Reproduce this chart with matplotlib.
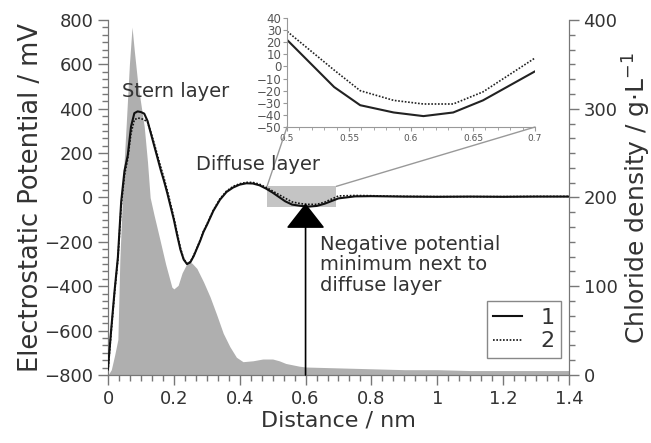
import matplotlib
matplotlib.use("Agg")
import matplotlib.pyplot as plt
from matplotlib.ticker import MultipleLocator, AutoMinorLocator
from matplotlib.patches import Rectangle, ConnectionPatch

# potential profiles (mV) vs distance (nm)
dist = [0.00, 0.01, 0.02, 0.03, 0.04, 0.05, 0.06, 0.07, 0.08, 0.09,
        0.10, 0.11, 0.12, 0.13, 0.14, 0.15, 0.16, 0.17, 0.18, 0.19,
        0.20, 0.21, 0.22, 0.23, 0.24, 0.25, 0.26, 0.27, 0.28, 0.29,
        0.30, 0.32, 0.34, 0.36, 0.38, 0.40, 0.42, 0.44, 0.46, 0.48,
        0.50, 0.538, 0.559, 0.586, 0.61, 0.634, 0.658, 0.70, 0.75, 0.80,
        0.85, 0.90, 1.0, 1.1, 1.2, 1.3, 1.4]
pot_1 = [-770, -590, -420, -270, -20, 120, 190, 320, 380, 388,
         385, 378, 345, 290, 235, 180, 125, 75, 20, -40,
         -100, -170, -235, -280, -300, -292, -265, -230, -195, -155,
         -125, -60, -10, 25, 45, 58, 64, 63, 55, 40,
         22, -17, -32, -38, -41, -38, -28, -4, 5, 6,
         5, 4, 3, 4, 3, 4, 4]
pot_2 = [-780, -600, -430, -280, -40, 100, 175, 290, 350, 358,
         356, 350, 340, 295, 245, 192, 138, 88, 32, -28,
         -90, -160, -228, -278, -298, -290, -262, -228, -192, -152,
         -122, -57, -6, 29, 50, 62, 68, 68, 60, 46,
         29, -3, -20, -28, -31, -31, -21, 7, 9, 8,
         6, 5, 4, 4, 4, 5, 5]

# chloride density (g/L)
rho_dist = [0.000, 0.010, 0.020, 0.030, 0.036, 0.046, 0.055, 0.065, 0.073, 0.080,
            0.090, 0.100, 0.110, 0.120, 0.128, 0.140, 0.158, 0.175, 0.194, 0.200,
            0.213, 0.225, 0.243, 0.255, 0.270, 0.290, 0.310, 0.330, 0.350, 0.370,
            0.390, 0.410, 0.440, 0.470, 0.500, 0.520, 0.540, 0.580, 0.600, 0.700,
            0.800, 0.900, 1.000, 1.100, 1.200, 1.300, 1.400]
rho = [0, 6, 22, 40, 130, 220, 280, 350, 392, 365,
       330, 305, 280, 240, 200, 180, 152, 125, 99, 97,
       101, 115, 128, 126, 120, 105, 88, 68, 47, 32,
       20, 15, 16, 18, 18, 16, 13, 10, 9, 8,
       7, 6, 6, 5, 5, 5, 5]

labels = ["1", "2"]
txt = "#333333"
spine_c = "#777777"

plt.rcParams["font.family"] = "DejaVu Sans"
fig = plt.figure(figsize=(6.51, 4.43), dpi=100)
ax = fig.add_axes([0.1659, 0.1535, 0.7081, 0.8014])
ax2 = ax.twinx()
ax.set_zorder(ax2.get_zorder() + 1)
ax.patch.set_visible(False)

ax2.fill_between(rho_dist, rho, 0, color="#afafaf", lw=0)
ax2.set_ylim(0, 400)
ax2.yaxis.set_major_locator(MultipleLocator(100))
ax2.yaxis.set_minor_locator(AutoMinorLocator(6))
ax2.set_ylabel("Chloride density / g\u00b7L$^{-1}$", fontsize=18, color=txt, labelpad=2)

ax.add_patch(Rectangle((0.483, -45), 0.21, 95, color="#c4c4c4", lw=0, zorder=1))
ax.plot(dist, pot_1, color="#111111", lw=1.5, label=labels[0], zorder=3)
ax.plot(dist, pot_2, color="#111111", lw=1.2, ls=(0, (1, 1)), label=labels[1], zorder=3)

ax.set_xlim(0, 1.4)
ax.set_ylim(-800, 800)
ax.xaxis.set_major_locator(MultipleLocator(0.2))
ax.xaxis.set_minor_locator(AutoMinorLocator(6))
ax.yaxis.set_major_locator(MultipleLocator(200))
ax.yaxis.set_minor_locator(AutoMinorLocator(6))
ax.set_xticks([0, 0.2, 0.4, 0.6, 0.8, 1.0, 1.2, 1.4])
ax.set_xticklabels(["0", "0.2", "0.4", "0.6", "0.8", "1", "1.2", "1.4"])
ax.set_xlabel("Distance / nm", fontsize=16, color=txt, labelpad=2)
ax.set_ylabel("Electrostatic Potential / mV", fontsize=18.5, color=txt, labelpad=0)

for a in (ax, ax2):
    a.spines["top"].set_visible(False)
    for s in a.spines.values():
        s.set_color(spine_c)
    a.tick_params(which="major", length=7, width=1, color=spine_c, labelsize=13, labelcolor=txt)
    a.tick_params(which="minor", length=4, width=1, color=spine_c)

# arrow marking the minimum
ax.annotate("", xy=(0.6, -27), xytext=(0.6, -800),
            arrowprops=dict(arrowstyle="-|>,head_length=1.6,head_width=1.25",
                            mutation_scale=10, color="black", lw=1.2, shrinkA=0, shrinkB=0),
            zorder=4)

ax.text(0.0425, 451, "Stern layer", fontsize=14, color=txt, va="baseline")
ax.text(0.267, 122, "Diffuse layer", fontsize=14, color=txt, va="baseline")
ax.text(0.644, -171, "Negative potential\nminimum next to\ndiffuse layer",
        fontsize=14, color=txt, va="top", linespacing=1.07)

leg = ax.legend(loc="lower right", bbox_to_anchor=(0.9826, 0.0479), borderaxespad=0,
                fontsize=16, handlelength=1.3, handletextpad=0.8, fancybox=False,
                framealpha=1, edgecolor="#888888", labelspacing=0.15, borderpad=0.3)
for t in leg.get_texts():
    t.set_color(txt)
leg.get_frame().set_linewidth(1)

# zoomed view of the minimum
axin = fig.add_axes([0.4409, 0.7133, 0.381, 0.246])
axin.plot(dist, pot_1, color="#222222", lw=1.5)
axin.plot(dist, pot_2, color="#222222", lw=1.2, ls=(0, (1, 1)))
axin.set_xlim(0.5, 0.7)
axin.set_ylim(-50, 40)
axin.yaxis.set_major_locator(MultipleLocator(10))
axin.xaxis.set_major_locator(MultipleLocator(0.05))
axin.xaxis.set_minor_locator(AutoMinorLocator(5))
axin.set_xticks([0.5, 0.55, 0.6, 0.65, 0.7])
axin.set_xticklabels(["0.5", "0.55", "0.6", "0.65", "0.7"])
axin.spines["top"].set_visible(False)
axin.spines["right"].set_visible(False)
for s in ("left", "bottom"):
    axin.spines[s].set_color("#999999")
axin.tick_params(axis="y", length=3, color="#999999", labelsize=8.5, labelcolor="#555555", pad=1)
axin.tick_params(axis="x", which="major", length=3, color="#999999", labelsize=6.5,
                 labelcolor="#555555", pad=2)
axin.tick_params(axis="x", which="minor", length=2, color="#999999")

for xa, xb in ((0.483, 0.5), (0.693, 0.7)):
    con = ConnectionPatch(xyA=(xa, 50), coordsA=ax.transData,
                          xyB=(xb, -50), coordsB=axin.transData,
                          color="#999999", lw=1)
    fig.add_artist(con)

fig.savefig("out.png", dpi=100)
